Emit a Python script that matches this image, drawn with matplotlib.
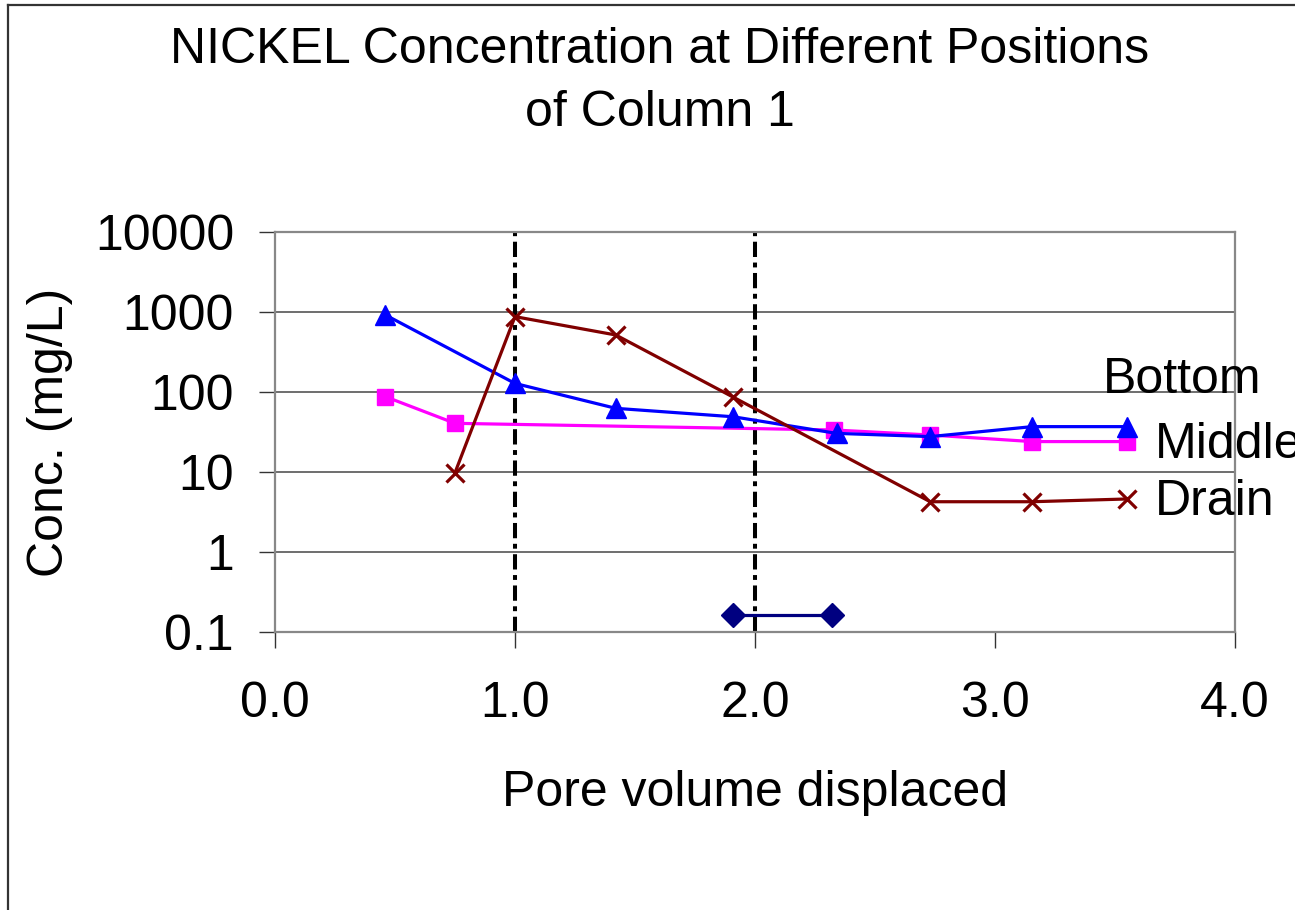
import matplotlib
matplotlib.use("Agg")
import matplotlib.pyplot as plt
from matplotlib.ticker import FixedLocator, FixedFormatter, NullLocator
from matplotlib.lines import Line2D

plt.rcParams['font.family'] = ['Liberation Sans', 'DejaVu Sans']
plt.rcParams['lines.scale_dashes'] = False

# Data
x_bottom = [0.46, 1.00, 1.42, 1.91, 2.34, 2.73, 3.155, 3.55]
y_bottom = [918, 128, 62.5, 49, 30.4, 27.7, 36.9, 36.9]

x_middle = [0.46, 0.75, 2.33, 2.73, 3.155, 3.55]
y_middle = [87.4, 40.6, 33.5, 29, 24, 24]

x_drain = [0.75, 1.00, 1.42, 1.91, 2.73, 3.155, 3.55]
y_drain = [9.8, 875, 516, 86, 4.25, 4.25, 4.6]

x_marker = [1.91, 2.32]
y_marker = [0.163, 0.163]

vlines_x = [1.0, 2.0]

x_ticks = [0.0, 1.0, 2.0, 3.0, 4.0]
x_ticklabels = ["0.0", "1.0", "2.0", "3.0", "4.0"]
y_ticks = [0.1, 1, 10, 100, 1000, 10000]
y_ticklabels = ["0.1", "1", "10", "100", "1000", "10000"]

series_labels = ["Bottom", "Middle", "Drain"]
title_lines = ["NICKEL Concentration at Different Positions", "of Column 1"]
xlabel = "Pore volume displaced"
ylabel = "Conc. (mg/L)"

FS = 36
W, H = 1295, 910
fig = plt.figure(figsize=(W / 100, H / 100), dpi=100)
fig.patch.set_facecolor('white')

ax = fig.add_axes([275 / W, 1 - 632 / H, (1235 - 275) / W, (632 - 232) / H])
ax.set_yscale('log')
ax.set_xlim(0, 4)
ax.set_ylim(0.1, 10000)

for s in ax.spines.values():
    s.set_color('#888888')
    s.set_linewidth(1.6)

ax.yaxis.set_major_locator(FixedLocator(y_ticks))
ax.yaxis.set_major_formatter(FixedFormatter(y_ticklabels))
ax.yaxis.set_minor_locator(NullLocator())
ax.xaxis.set_major_locator(FixedLocator(x_ticks))
ax.xaxis.set_major_formatter(FixedFormatter(x_ticklabels))
ax.tick_params(axis='both', which='major', direction='out', length=11.5,
               width=1.0, color='#333333', labelsize=FS)
ax.tick_params(axis='y', pad=18)
ax.tick_params(axis='x', pad=24)

ax.grid(True, axis='y', color='#555555', linewidth=1.2)
ax.set_axisbelow(True)

for xv in vlines_x:
    ax.axvline(xv, color='black', linewidth=2.9, dashes=(11, 4, 3.5, 4), zorder=2)

lw = 2.3
ax.plot(x_bottom, y_bottom, color='#0000FF', linewidth=lw, marker='^',
        markersize=15, zorder=4)
ax.plot(x_middle, y_middle, color='#FF00FF', linewidth=lw, marker='s',
        markersize=11, zorder=3)
ax.plot(x_drain, y_drain, color='#800000', linewidth=lw, marker='x',
        markersize=13, markeredgewidth=2.3, zorder=5)
ax.plot(x_marker, y_marker, color='#000080', linewidth=lw, marker='D',
        markersize=12, zorder=4)

# series labels at right
fig.text(1103 / W, 1 - 393 / H, series_labels[0], fontsize=FS, ha='left', va='baseline')
fig.text(1155 / W, 1 - 458 / H, series_labels[1], fontsize=FS, ha='left', va='baseline')
fig.text(1155 / W, 1 - 515 / H, series_labels[2], fontsize=FS, ha='left', va='baseline')

# title
fig.text(660 / W, 1 - 63 / H, title_lines[0], fontsize=FS, ha='center', va='baseline')
fig.text(660 / W, 1 - 126 / H, title_lines[1], fontsize=FS, ha='center', va='baseline')

# axis labels
fig.text(755 / W, 1 - 806 / H, xlabel, fontsize=FS, ha='center', va='baseline')
fig.text(50 / W, 1 - 432 / H, ylabel, fontsize=FS, ha='center', va='center', rotation=90)

# outer frame (partially visible)
fig.add_artist(Line2D([8 / W, 8 / W], [0, 1 - 5 / H], transform=fig.transFigure,
                      color='#333333', linewidth=1.6))
fig.add_artist(Line2D([8 / W, 1], [1 - 5 / H, 1 - 5 / H], transform=fig.transFigure,
                      color='#333333', linewidth=1.6))

fig.savefig('out.png', dpi=100)
